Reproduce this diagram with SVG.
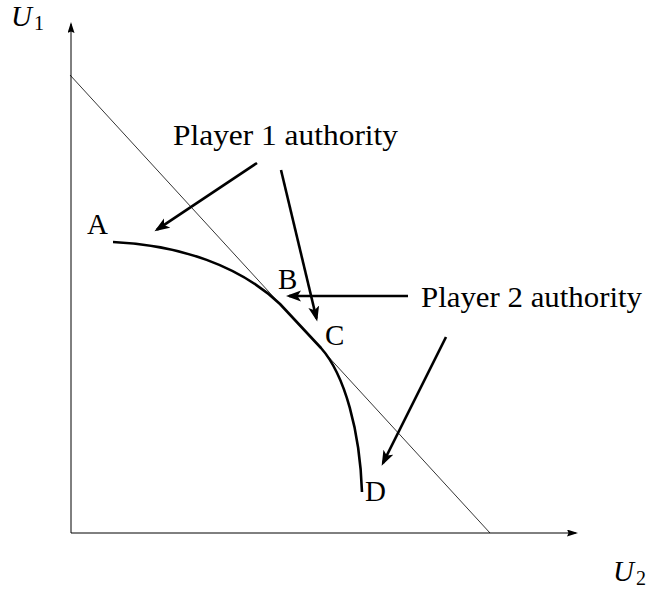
<svg xmlns="http://www.w3.org/2000/svg" width="647" height="589" viewBox="0 0 647 589">
<defs>
<style>
text{font-family:"Liberation Serif","DejaVu Serif",serif;fill:#000}
.lbl{font-size:29px}
.sub{font-size:20px}
.axis{stroke:#000;stroke-width:1;fill:none}
.thin{stroke:#000;stroke-width:0.8;fill:none}
.thick{stroke:#000;stroke-width:2.6;fill:none;stroke-linejoin:round}
.arr{stroke:#000;stroke-width:2.6;fill:none}
</style>
<marker id="ah" markerUnits="userSpaceOnUse" markerWidth="16" markerHeight="12" refX="12" refY="5.5" orient="auto">
<path d="M0,0 L15,5.5 L0,11 L3.5,5.5 z" fill="#000"/>
</marker>
<marker id="axh" markerUnits="userSpaceOnUse" markerWidth="12" markerHeight="8" refX="9" refY="3.5" orient="auto">
<path d="M0,0 L11,3.5 L0,7 L1.5,3.5 z" fill="#000"/>
</marker>
</defs>
<g id="axes">
<line class="axis" x1="71" y1="533" x2="71" y2="24" marker-end="url(#axh)"/>
<line class="axis" x1="71" y1="533" x2="576" y2="533" marker-end="url(#axh)"/>
</g>
<g id="budget-line">
<line class="thin" x1="70" y1="75" x2="490" y2="533"/>
</g>
<g id="frontier">
<path class="thick" d="M113,242 C180,245 240,266 280,304 L321,348 C345,375 360,432 362,492"/>
</g>
<g id="connectors">
<line class="arr" x1="257" y1="163" x2="157" y2="229.7" marker-end="url(#ah)"/>
<line class="arr" x1="281" y1="170" x2="316.5" y2="318.5" marker-end="url(#ah)"/>
<line class="arr" x1="408" y1="296" x2="289" y2="296" marker-end="url(#ah)"/>
<line class="arr" x1="446" y1="337" x2="383" y2="463" marker-end="url(#ah)"/>
</g>
<g id="label-U1">
<text class="lbl" x="11" y="26" font-style="italic">U</text>
<text class="sub" x="34" y="30">1</text>
</g>
<g id="label-U2">
<text class="lbl" x="613" y="581" font-style="italic">U</text>
<text class="sub" x="636" y="585">2</text>
</g>
<g id="player1">
<text class="lbl" x="173" y="145" textLength="225" lengthAdjust="spacingAndGlyphs">Player 1 authority</text>
</g>
<g id="player2">
<text class="lbl" x="421" y="307" textLength="221" lengthAdjust="spacingAndGlyphs">Player 2 authority</text>
</g>
<g id="point-A"><text class="lbl" x="87" y="234">A</text></g>
<g id="point-B"><text class="lbl" x="278" y="289">B</text></g>
<g id="point-C"><text class="lbl" x="325" y="345">C</text></g>
<g id="point-D"><text class="lbl" x="365" y="501">D</text></g>
</svg>
